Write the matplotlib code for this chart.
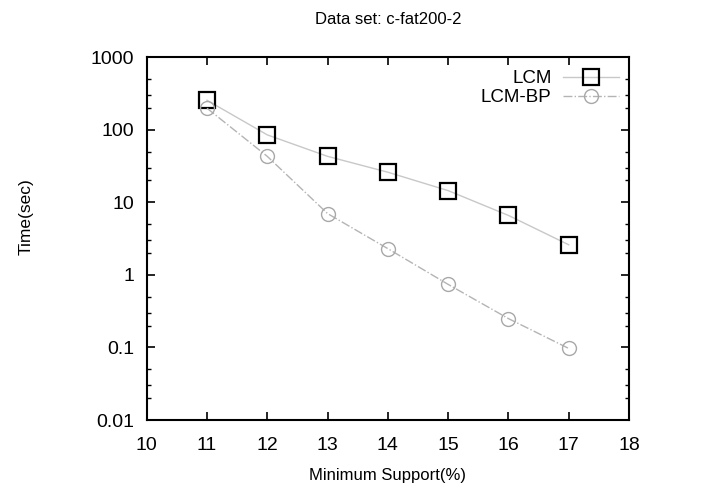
import numpy as np
import matplotlib
matplotlib.use("Agg")
import matplotlib.pyplot as plt
from matplotlib.ticker import LogLocator, NullFormatter

plt.rcParams['font.family'] = ['Liberation Sans', 'DejaVu Sans']

support = [11, 12, 13, 14, 15, 16, 17]
lcm = [255, 85, 43, 26, 14.5, 6.6, 2.6]
lcm_bp = [198, 43, 7.0, 2.3, 0.74, 0.25, 0.097]

fig = plt.figure(figsize=(7.02, 4.93), dpi=100)
ax = fig.add_axes([0.209, 0.148, 0.687, 0.736])

ax.plot(support, lcm, color='#c8c8c8', lw=1, ls='-', marker='s', ms=11,
        mfc='none', mec='black', mew=1.6, label='LCM')
ax.plot(support, lcm_bp, color='#b4b4b4', lw=1, ls='-.', marker='o', ms=10,
        mfc='none', mec='#a8a8a8', mew=1.0, label='LCM-BP')

ax.set_yscale('log')
ax.set_xlim(10, 18)
ax.set_ylim(0.01, 1000)
ax.set_xticks(range(10, 19))
ax.set_yticks([0.01, 0.1, 1, 10, 100, 1000])
ax.set_yticklabels(['0.01', '0.1', '1', '10', '100', '1000'])
ax.yaxis.set_minor_locator(LogLocator(base=10, subs=(2, 3, 5), numticks=20))
ax.yaxis.set_minor_formatter(NullFormatter())

ax.tick_params(which='both', direction='in', top=True, right=True, labelsize=14)
ax.tick_params(axis='x', pad=12)
ax.tick_params(axis='y', pad=9)
ax.tick_params(which='major', length=6, width=1.2)
ax.tick_params(which='minor', length=3, width=1)
for s in ax.spines.values():
    s.set_linewidth(1.5)

ax.set_xlabel('Minimum Support(%)', fontsize=12, labelpad=10)
ax.set_ylabel('Time(sec)', fontsize=12.5)
ax.yaxis.set_label_coords(-0.235, 0.56)
ax.set_title('Data set: c-fat200-2', fontsize=12, pad=24)

ax.legend(loc='upper right', frameon=False, markerfirst=False, fontsize=13.5,
          handlelength=3, borderaxespad=0.0, labelspacing=0.1, handletextpad=0.6,
          bbox_to_anchor=(0.995, 0.985))

fig.savefig('out.png', dpi=100)
